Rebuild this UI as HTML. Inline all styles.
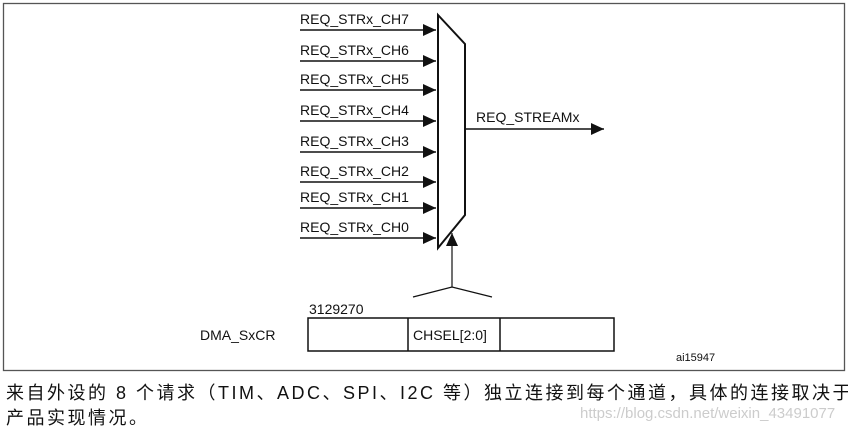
<!DOCTYPE html>
<html><head><meta charset="utf-8"><style>
body{margin:0;width:848px;height:436px;background:#fff;overflow:hidden;font-family:"Liberation Sans",sans-serif}
svg{position:absolute;left:0;top:0}
.cn{position:absolute;left:6px;font-family:"Liberation Sans","Noto Sans CJK SC",sans-serif;font-size:18px;letter-spacing:2.5px;color:#111;white-space:nowrap}
</style></head><body>
<svg width="848" height="436" viewBox="0 0 848 436">
<rect x="3.5" y="3.5" width="841" height="367" fill="none" stroke="#555" stroke-width="1.3"/>
<defs><marker id="a" markerWidth="13" markerHeight="12" refX="13" refY="6" orient="auto" markerUnits="userSpaceOnUse"><path d="M0,0 L13,6 L0,12z" fill="#111"/></marker></defs>
<g stroke="#111" stroke-width="1.5" fill="none">
<path d="M438,15 L465,44 L465,215 L438,248 Z" stroke-width="2"/>
<line x1="300" y1="30" x2="436" y2="30" marker-end="url(#a)"/>
<line x1="300" y1="61" x2="436" y2="61" marker-end="url(#a)"/>
<line x1="300" y1="90" x2="436" y2="90" marker-end="url(#a)"/>
<line x1="300" y1="121" x2="436" y2="121" marker-end="url(#a)"/>
<line x1="300" y1="152" x2="436" y2="152" marker-end="url(#a)"/>
<line x1="300" y1="182" x2="436" y2="182" marker-end="url(#a)"/>
<line x1="300" y1="208" x2="436" y2="208" marker-end="url(#a)"/>
<line x1="300" y1="238" x2="436" y2="238" marker-end="url(#a)"/>
<line x1="465" y1="129" x2="604" y2="129" marker-end="url(#a)"/>
<line x1="452" y1="287" x2="452" y2="233" marker-end="url(#a)" stroke-width="1.2"/>
<path d="M413,297 L452,287 L492,297" stroke-width="1.2"/>
<rect x="308" y="318" width="306" height="33"/>
<line x1="408" y1="318" x2="408" y2="351"/>
<line x1="500" y1="318" x2="500" y2="351"/>
</g>
<g font-size="14" fill="#111">
<text x="300" y="24">REQ_STRx_CH7</text>
<text x="300" y="55">REQ_STRx_CH6</text>
<text x="300" y="84">REQ_STRx_CH5</text>
<text x="300" y="115">REQ_STRx_CH4</text>
<text x="300" y="146">REQ_STRx_CH3</text>
<text x="300" y="176">REQ_STRx_CH2</text>
<text x="300" y="202">REQ_STRx_CH1</text>
<text x="300" y="232">REQ_STRx_CH0</text>
<text x="476" y="122">REQ_STREAMx</text>
<text x="309" y="314">3129270</text>
<text x="413" y="340">CHSEL[2:0]</text>
<text x="200" y="340">DMA_SxCR</text>
<text x="676" y="361" font-size="11">ai15947</text>
</g>
</svg>
<div class="cn" style="top:379px">来自外设的 8 个请求（TIM、ADC、SPI、I2C 等）独立连接到每个通道，具体的连接取决于</div>
<div class="cn" style="top:404px">产品实现情况。</div>
<div class="cn" style="top:405px;left:580px;color:#ccc;font-size:15px;letter-spacing:0">https://blog.csdn.net/weixin_43491077</div>
</body></html>
